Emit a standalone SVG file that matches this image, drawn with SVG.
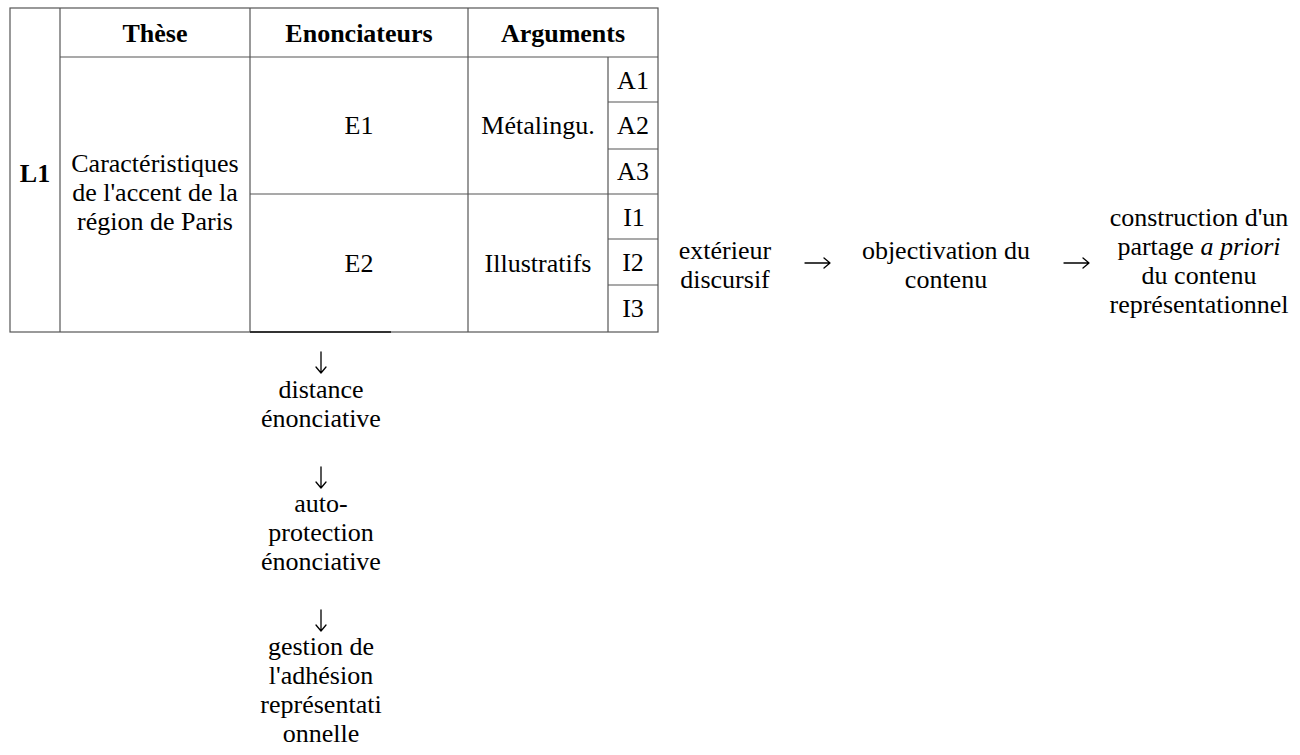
<svg xmlns="http://www.w3.org/2000/svg" width="1300" height="755" viewBox="0 0 1300 755">
  <style>
    text { font-size: 26px; fill: #000; text-anchor: middle; }
    .b { font-weight: bold; }
    .grid { stroke: #555; stroke-width: 1.2; fill: none; }
    .arrow { stroke: #000; stroke-width: 1.3; fill: none; stroke-linecap: round; stroke-linejoin: round; }
  </style>
  <rect width="1300" height="755" fill="#fff"/>

  <!-- table frame and grid -->
  <g id="table">
    <rect class="grid" x="10" y="8" width="648" height="324"/>
    <line class="grid" x1="60" y1="8" x2="60" y2="332"/>
    <line class="grid" x1="60" y1="57" x2="658" y2="57"/>
    <line class="grid" x1="250" y1="8" x2="250" y2="332"/>
    <line class="grid" x1="468" y1="8" x2="468" y2="332"/>
    <line class="grid" x1="608" y1="57" x2="608" y2="332"/>
    <line class="grid" x1="250" y1="194" x2="658" y2="194"/>
    <line class="grid" x1="608" y1="102" x2="658" y2="102"/>
    <line class="grid" x1="608" y1="149" x2="658" y2="149"/>
    <line class="grid" x1="608" y1="239" x2="658" y2="239"/>
    <line class="grid" x1="608" y1="285" x2="658" y2="285"/>
    <line x1="250" y1="332" x2="391" y2="332" stroke="#333" stroke-width="2"/>
  </g>

  <g id="header">
    <text font-family="Liberation Serif" class="b" x="155" y="42">Thèse</text>
    <text font-family="Liberation Serif" class="b" x="359" y="42">Enonciateurs</text>
    <text font-family="Liberation Serif" class="b" x="563" y="42">Arguments</text>
  </g>

  <g id="row-L1">
    <text font-family="Liberation Serif" class="b" x="35" y="182">L1</text>
    <text font-family="Liberation Serif" x="155" y="172">Caractéristiques</text>
    <text font-family="Liberation Serif" x="155" y="201">de l'accent de la</text>
    <text font-family="Liberation Serif" x="155" y="230">région de Paris</text>
  </g>

  <g id="E1">
    <text font-family="Liberation Serif" x="359" y="134">E1</text>
    <text font-family="Liberation Serif" x="538" y="134">Métalingu.</text>
    <text font-family="Liberation Serif" x="633" y="89">A1</text>
    <text font-family="Liberation Serif" x="633" y="134">A2</text>
    <text font-family="Liberation Serif" x="633" y="180">A3</text>
  </g>

  <g id="E2">
    <text font-family="Liberation Serif" x="359" y="272">E2</text>
    <text font-family="Liberation Serif" x="538" y="272">Illustratifs</text>
    <text font-family="Liberation Serif" x="634" y="226">I1</text>
    <text font-family="Liberation Serif" x="633" y="271">I2</text>
    <text font-family="Liberation Serif" x="633" y="317">I3</text>
  </g>

  <!-- horizontal chain -->
  <g id="exterieur">
    <text font-family="Liberation Serif" x="725" y="259">extérieur</text>
    <text font-family="Liberation Serif" x="725" y="288">discursif</text>
  </g>
  <g id="objectivation">
    <text font-family="Liberation Serif" x="946" y="259">objectivation du</text>
    <text font-family="Liberation Serif" x="946" y="288">contenu</text>
  </g>
  <g id="construction">
    <text font-family="Liberation Serif" x="1199" y="226">construction d'un</text>
    <text font-family="Liberation Serif" x="1199" y="255">partage <tspan font-style="italic">a priori</tspan></text>
    <text font-family="Liberation Serif" x="1199" y="284">du contenu</text>
    <text font-family="Liberation Serif" x="1199" y="313">représentationnel</text>
  </g>

  <!-- vertical chain -->
  <g id="distance">
    <text font-family="Liberation Serif" x="321" y="398">distance</text>
    <text font-family="Liberation Serif" x="321" y="427">énonciative</text>
  </g>
  <g id="autoprotection">
    <text font-family="Liberation Serif" x="321" y="512">auto-</text>
    <text font-family="Liberation Serif" x="321" y="541">protection</text>
    <text font-family="Liberation Serif" x="321" y="570">énonciative</text>
  </g>
  <g id="gestion">
    <text font-family="Liberation Serif" x="321" y="655">gestion de</text>
    <text font-family="Liberation Serif" x="321" y="684">l'adhésion</text>
    <text font-family="Liberation Serif" x="321" y="713">représentati</text>
    <text font-family="Liberation Serif" x="321" y="742">onnelle</text>
  </g>

  <!-- arrows linking the steps -->
  <g id="connectors">
    <path class="arrow" d="M805 263 H830 M824 258 L830 263 L824 268"/>
    <path class="arrow" d="M1064 263 H1089 M1083 258 L1089 263 L1083 268"/>
    <path class="arrow" d="M321 352 V373 M316 367 L321 373 L326 367"/>
    <path class="arrow" d="M321 467 V488 M316 482 L321 488 L326 482"/>
    <path class="arrow" d="M321 610 V631 M316 625 L321 631 L326 625"/>
  </g>
</svg>
